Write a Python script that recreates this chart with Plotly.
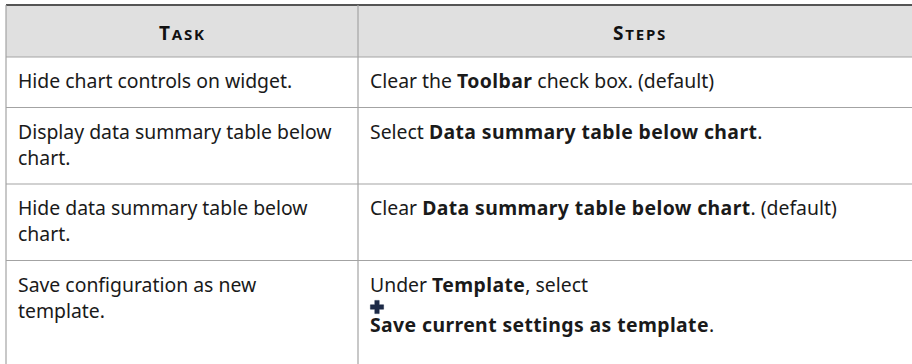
import plotly.graph_objects as go

# ---------------- data ----------------
headers = ["Task", "Steps"]
task_lines = [
    ["Hide chart controls on widget."],
    ["Display data summary table below", "chart."],
    ["Hide data summary table below", "chart."],
    ["Save configuration as new", "template."],
]
step_lines = [
    ["Clear the <b>Toolbar</b> check box. (default)"],
    ["Select <b>Data summary table below chart</b>."],
    ["Clear <b>Data summary table below chart</b>. (default)"],
    ["Under <b>Template</b>, select", "{icon}", "<b>Save current settings as template</b>."],
]

# ---------------- style / geometry ----------------
W, H = 912, 364
X_EDGES = [6, 358, 922]
TOP = 5
HEADER_H = 52
TEXT_PAD_X = 10
FIRST_BASE = 31
LINE_H = 26
BOTTOM_PAD = 19.5
ICON_OFF = 15.5
ICON_NEXT = 40.5
ICON_SIZE = 14
FONT = "Noto Sans, Source Sans Pro, sans-serif"
FS = 19.4
TXT = "#1a1a1a"
GRID = "#a3a3a3"
HEAD_FILL = "#e0e0e0"
BASE_SHIFT = 7.5  # baseline -> middle of text box


def small_caps(word, small=15):
    return (f"<b><span style='letter-spacing:1.8px'>{word[0].upper()}"
            f"<span style='font-size:{small}px'>{word[1:].upper()}</span></span></b>")


def style_bold(text):
    return (text.replace("<b>", "<b><span style='letter-spacing:0.4px'>")
                .replace("</b>", "</span></b>"))


def place(lines, row_top):
    out = []
    base = None
    after_icon = False
    for item in lines:
        if item == "{icon}":
            out.append(("icon", "", base + ICON_OFF))
            after_icon = True
            continue
        if base is None:
            base = row_top + FIRST_BASE
        elif after_icon:
            base = base + ICON_NEXT
        else:
            base = base + LINE_H
        after_icon = False
        out.append(("text", item, base))
    return out, base + BOTTOM_PAD


shapes = []
annotations = []
icon_x, icon_y = [], []

shapes.append(dict(type="rect", x0=X_EDGES[0], x1=X_EDGES[-1], y0=TOP, y1=TOP + HEADER_H,
                   fillcolor=HEAD_FILL, line=dict(width=0), layer="below"))
for i, h in enumerate(headers):
    annotations.append(dict(x=(X_EDGES[i] + X_EDGES[i + 1]) / 2 if i == 0 else 640,
                            y=TOP + HEADER_H / 2 + 1.5,
                            text=small_caps(h), showarrow=False, xanchor="center", yanchor="middle",
                            font=dict(family=FONT, size=19, color="#111111")))

row_top = TOP + HEADER_H
row_tops = [row_top]
for r in range(len(task_lines)):
    bottoms = []
    for c, col in enumerate([task_lines, step_lines]):
        items, bottom = place(col[r], row_top)
        bottoms.append(bottom)
        for kind, text, y in items:
            if kind == "icon":
                icon_x.append(X_EDGES[c] + TEXT_PAD_X + 2 + ICON_SIZE / 2)
                icon_y.append(y)
            else:
                annotations.append(dict(x=X_EDGES[c] + TEXT_PAD_X, y=y - BASE_SHIFT,
                                        text=style_bold(text),
                                        showarrow=False, xanchor="left", yanchor="middle",
                                        font=dict(family=FONT, size=FS, color=TXT)))
    row_top = max(bottoms)
    row_tops.append(row_top)

shapes.append(dict(type="line", x0=X_EDGES[0], x1=X_EDGES[-1], y0=TOP, y1=TOP,
                   line=dict(color="#555555", width=2)))
for y in row_tops[:-1]:
    shapes.append(dict(type="line", x0=X_EDGES[0], x1=X_EDGES[-1], y0=y, y1=y,
                       line=dict(color=GRID, width=1.2)))
for x in X_EDGES:
    shapes.append(dict(type="line", x0=x, x1=x, y0=TOP, y1=H + 10,
                       line=dict(color=GRID, width=1.2)))

fig = go.Figure()
fig.add_trace(go.Scatter(x=icon_x, y=icon_y, mode="markers", hoverinfo="skip",
                         marker=dict(symbol="cross", size=ICON_SIZE - 3, color="#1d2a47",
                                     line=dict(width=0.5, color="#1d2a47"))))
fig.update_layout(
    width=W, height=H,
    margin=dict(l=0, r=0, t=0, b=0),
    paper_bgcolor="white", plot_bgcolor="white",
    xaxis=dict(range=[0, W], visible=False, fixedrange=True),
    yaxis=dict(range=[H, 0], visible=False, fixedrange=True),
    shapes=shapes, annotations=annotations, showlegend=False,
)
fig.write_html("out.html", config={"displayModeBar": False},
               post_script="document.body.style.margin='0px';document.body.style.overflow='hidden';")
